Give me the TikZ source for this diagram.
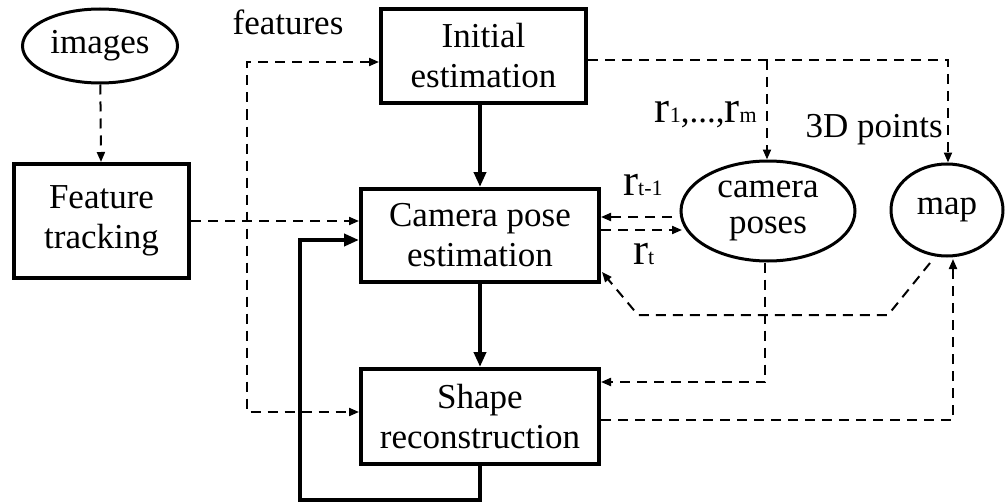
\documentclass[tikz,border=0pt]{standalone}
\usepackage{fontspec}
\setmainfont{Liberation Serif}
\usetikzlibrary{arrows.meta,shapes.geometric}

\newcommand{\bodyfont}{\fontsize{35}{40}\selectfont}
\newcommand{\ovalfont}{\fontsize{35}{36}\selectfont}
\newcommand{\rsym}{{\fontsize{45}{45}\selectfont r}}
\newcommand{\smallsub}[1]{{\fontsize{22}{22}\selectfont #1}}

\begin{document}
\begin{tikzpicture}[x=1pt,y=-1pt,
  box/.style={draw,line width=4pt,rectangle,inner sep=0pt,align=center,font=\bodyfont},
  oval/.style={draw,line width=3pt,ellipse,inner sep=0pt,align=center,font=\ovalfont},
  dasharrow/.style={line width=2pt,dash pattern=on 10pt off 7pt,-{Triangle[length=10pt,width=8pt]}},
  dashline/.style={line width=2pt,dash pattern=on 10pt off 7pt},
  solidarrow/.style={line width=4pt,-{Triangle[length=15pt,width=12pt]}},
  lbl/.style={inner sep=0pt,font=\bodyfont},
]
\useasboundingbox (0,0) rectangle (1005,503);

% blocks
\node[oval, minimum width=155pt, minimum height=74pt] (images) at (100,46) {images};
\node[box, minimum width=175pt, minimum height=114pt] (feat) at (101.5,221) {Feature\\tracking};
\node[box, minimum width=205pt, minimum height=94pt] (init) at (483.5,56) {Initial\\estimation};
\node[box, minimum width=238pt, minimum height=93pt] (cam) at (480,235.5) {Camera pose\\estimation};
\node[box, minimum width=238pt, minimum height=95pt] (shape) at (480,416.5) {Shape\\reconstruction};
\node[oval, minimum width=174pt, minimum height=100pt] (poses) at (768,211) {camera\\poses};
\node[oval, minimum width=112pt, minimum height=92pt] (map) at (947,210) {map};

% helper points of the routed connectors
\coordinate (fTop) at (247,62);
\coordinate (fBot) at (247,412);
\coordinate (tr) at (948,60);
\coordinate (br) at (767,60);
\coordinate (lb) at (300,500);
\coordinate (lt) at (300,240);
\coordinate (rp) at (672,217);
\coordinate (rq) at (682,230);
\coordinate (mA) at (888,315);
\coordinate (mB) at (638,315);
\coordinate (camIn) at (602,272);
\coordinate (sy) at (765,382);
\coordinate (mb) at (953,420);
\coordinate (mapIn) at (953,259);
\coordinate (mapOut) at (930,263);

% dashed data flow
\draw[dasharrow] (images) -- (feat);
\draw[dasharrow] (feat.east) -- (feat.east -| cam.west);
\draw[dashline,{Triangle[length=10pt,width=8pt]}-{Triangle[length=10pt,width=8pt]}]
  (init.west |- fTop) -- (fTop) -- (fBot) -- (shape.west |- fBot);
\draw[dasharrow] (init.east |- tr) -- (tr) -- (map.north -| tr);
\draw[dasharrow] (br) -- (poses.north -| br);
\draw[dasharrow] (rp) -- (rp -| cam.east);
\draw[dasharrow] (cam.east |- rq) -- (rq);
\draw[dasharrow] (mapOut) -- (mA) -- (mB) -- (camIn);
\draw[dasharrow] (poses.south -| sy) -- (sy) -- (shape.east |- sy);
\draw[dasharrow] (shape.east |- mb) -- (mb) -- (mapIn);

% solid control flow
\draw[solidarrow] (init.south -| cam.north) -- (cam.north);
\draw[solidarrow] (cam.south) -- (shape.north);
\draw[solidarrow] (shape.south) |- (lb) -- (lt) -- (cam.west |- lt);

% labels
\node[lbl, anchor=base] at (288,35) {features};
\node[lbl, anchor=base east] at (757,122) {\rsym\smallsub{1}{\bodyfont,...,}\rsym\smallsub{m}};
\node[lbl, anchor=base east] at (943,137) {3D points};
\node[lbl, anchor=base west] at (623,195) {\rsym\smallsub{t-1}};
\node[lbl, anchor=base west] at (633,264) {\rsym\smallsub{t}};
\end{tikzpicture}
\end{document}
